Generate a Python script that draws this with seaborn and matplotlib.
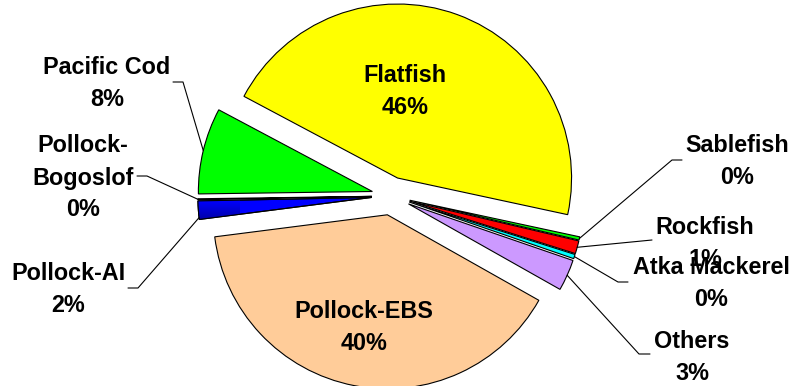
import numpy as np
import matplotlib
matplotlib.use("Agg")
import matplotlib.pyplot as plt
from matplotlib.colors import LinearSegmentedColormap
from matplotlib.patches import PathPatch
import seaborn as sns

# Catch composition by species group (percent of total)
species = ["Flatfish", "Sablefish", "Rockfish", "Atka Mackerel", "Others",
           "Pollock-EBS", "Pollock-AI", "Pollock-Bogoslof", "Pacific Cod"]
share = [45.6, 0.3, 1.2, 0.4, 2.9, 39.8, 1.7, 0.1, 8.0]
slice_colors = ["#FFFF00", "#00FF00", "#FF0000", "#00FFFF", "#CC99FF",
                "#FFCC99", "#0000FF", "#FFFFFF", "#00FF00"]

sns.set_theme(style="white")
plt.rcParams["font.family"] = ["Liberation Sans", "DejaVu Sans"]

W, H, DPI = 790, 386, 100
CX, CY, R = 391, 196, 174  # pie centre and radius in pixels


def px(x, y):
    """Pixel position (from top-left) to data units of the pie axes."""
    return (x - CX) / R, (CY - y) / R


fig = plt.figure(figsize=(W / DPI, H / DPI), dpi=DPI)
ax = fig.add_axes([0, 0, 1, 1])

wedges, _ = ax.pie(
    share, colors=slice_colors, explode=[0.11] * len(share),
    startangle=152, counterclock=False, radius=1.0,
    wedgeprops=dict(edgecolor="black", linewidth=0.8),
)

# Shaded fill for the Pollock-AI slice
ai = wedges[species.index("Pollock-AI")]
grad = np.linspace(0, 1, 64).reshape(-1, 1)
cmap = LinearSegmentedColormap.from_list("ai", ["#0000FF", "#00007A"])
x0, y0 = px(195, 200)
x1, y1 = px(240, 230)
img = ax.imshow(grad, extent=(x0, x1, y1, y0), cmap=cmap, aspect="auto",
                origin="upper", zorder=ai.get_zorder() + 0.1, interpolation="bilinear")
img.set_clip_path(ai)
ax.add_patch(PathPatch(ai.get_path(), transform=ai.get_transform(), facecolor="none",
                       edgecolor="black", linewidth=0.8, zorder=ai.get_zorder() + 0.2))

# Label placement: centre of text block, leader start, leader elbow, anchor fraction
label_layout = {
    "Flatfish":         ((405, 91), None, None, None),
    "Pollock-EBS":      ((364, 327), None, None, None),
    "Pacific Cod":      ((107, 84), (173, 82), (183, 82), 0.5),
    "Pollock-Bogoslof": ((83, 178), (137, 176), (147, 176), 0.5),
    "Pollock-AI":       ((68, 290), (128, 288), (138, 288), 0.9),
    "Sablefish":        ((737, 162), (682, 160), (672, 160), 0.5),
    "Rockfish":         ((705, 243), (652, 240), None, 0.5),
    "Atka Mackerel":    ((711, 283), (628, 282), (618, 282), 0.5),
    "Others":           ((692, 357), (650, 354), (639, 354), 0.5),
}
line_breaks = {"Pollock-Bogoslof": "Pollock-\nBogoslof"}

for name, value, wedge in zip(species, share, wedges):
    (tx, ty), start, elbow, frac = label_layout[name]
    text = f"{line_breaks.get(name, name)}\n{value:.0f}%"
    ax.text(*px(tx, ty), text, ha="center", va="center", fontsize=16.8,
            fontweight="bold", color="black", linespacing=1.5, zorder=6)
    if start is None:
        continue
    ang = np.deg2rad(wedge.theta1 + frac * (wedge.theta2 - wedge.theta1))
    ax_, ay_ = wedge.center
    anchor = (ax_ + wedge.r * np.cos(ang), ay_ + wedge.r * np.sin(ang))
    pts = [px(*start)]
    if elbow is not None:
        pts.append(px(*elbow))
    pts.append(anchor)
    xs, ys = zip(*pts)
    ax.plot(xs, ys, color="black", linewidth=0.8, zorder=5)

ax.set_xlim(-CX / R, (W - CX) / R)
ax.set_ylim(-(H - CY) / R, CY / R)
ax.set_aspect("auto")
ax.axis("off")

fig.savefig("out.png", dpi=DPI, facecolor="white")
